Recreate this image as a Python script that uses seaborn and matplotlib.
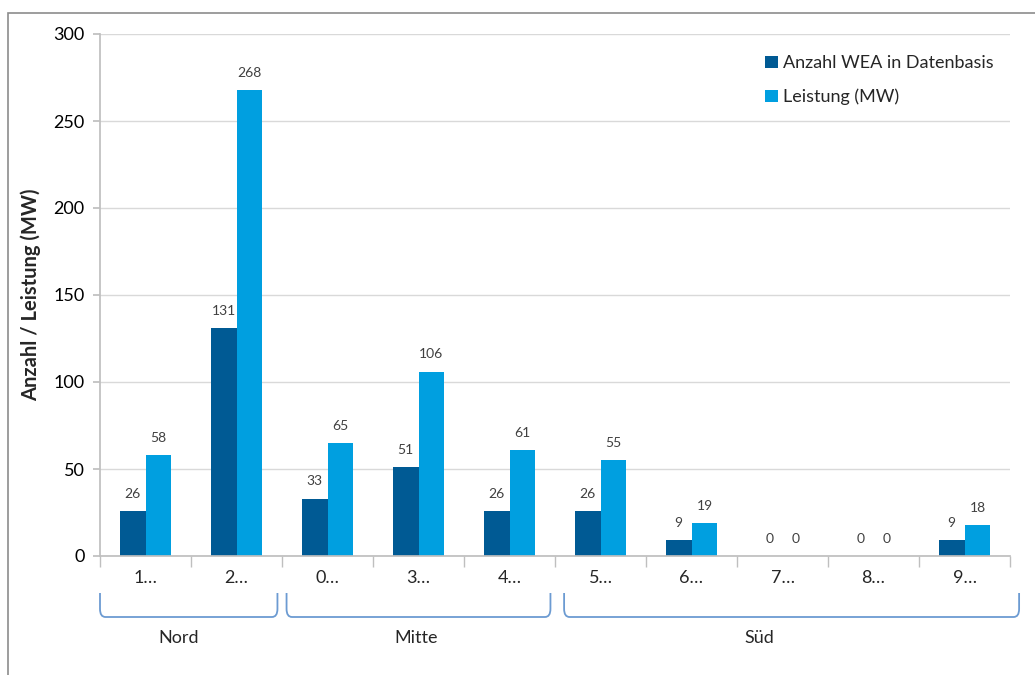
import matplotlib
matplotlib.use("Agg")
import matplotlib.pyplot as plt
import seaborn as sns
import pandas as pd
from matplotlib.path import Path
from matplotlib.patches import PathPatch, Rectangle
import matplotlib.transforms as mtransforms

categories = ["1…", "2…", "0…", "3…", "4…", "5…", "6…", "7…", "8…", "9…"]
anzahl = [26, 131, 33, 51, 26, 26, 9, 0, 0, 9]
leistung = [58, 268, 65, 106, 61, 55, 19, 0, 0, 18]
series_names = ["Anzahl WEA in Datenbasis", "Leistung (MW)"]
groups = ["Nord", "Mitte", "Süd"]

df = pd.DataFrame({
    "cat": categories * 2,
    "val": anzahl + leistung,
    "series": [series_names[0]] * len(categories) + [series_names[1]] * len(categories),
})

sns.set_theme(style="white")
plt.rcParams['font.family'] = ['Lato', 'DejaVu Sans']

fig = plt.figure(figsize=(10.35, 6.75), dpi=100)
ax = fig.add_axes([100 / 1035, 1 - 556 / 675, 910 / 1035, 522 / 675])

palette = {series_names[0]: "#005A94", series_names[1]: "#009FE0"}
sns.barplot(data=df, x="cat", y="val", hue="series", order=categories,
            hue_order=series_names, palette=palette, width=0.57, gap=0,
            saturation=1, ax=ax, legend=True, linewidth=0)

for cont in ax.containers:
    ax.bar_label(cont, fmt="%d", padding=8, fontsize=10, color="#404040")

ax.set_ylim(0, 300)
ax.set_xlim(-0.5, len(categories) - 0.5)
ax.set_yticks([0, 50, 100, 150, 200, 250, 300])
ax.yaxis.grid(True, color="#D9D9D9", linewidth=1)
ax.set_axisbelow(True)
for s in ["top", "right"]:
    ax.spines[s].set_visible(False)
ax.spines["left"].set_color("#BFBFBF")
ax.spines["bottom"].set_color("#BFBFBF")
ax.tick_params(axis="y", which="both", left=True, length=5, color="#BFBFBF",
               labelsize=13, labelcolor="#000000", pad=6)
ax.set_ylabel("Anzahl / Leistung (MW)", fontsize=14.5, fontweight="bold", labelpad=9)
ax.set_xlabel("")

ax.tick_params(axis="x", which="major", length=0, labelsize=13, pad=10)
ax.set_xticks([i - 0.5 for i in range(len(categories) + 1)], minor=True)
ax.tick_params(axis="x", which="minor", length=8, color="#BFBFBF", bottom=True)

leg = ax.legend(loc="upper left", bbox_to_anchor=(0.713, 0.99), frameon=False,
                fontsize=13, handlelength=0.7, handleheight=0.7, handletextpad=0.3,
                labelspacing=0.95)

# group brackets
trans = mtransforms.blended_transform_factory(ax.transData, fig.transFigure)
y_top = 1 - 593 / 675
y_bot = 1 - 617 / 675
r = 0.012
rx = 0.06
bracket_x = [(-0.5, 1.45), (1.55, 4.45), (4.6, 9.6)]
label_x = [0.36, 2.97, 6.75]
for (x0, x1), lx, name in zip(bracket_x, label_x, groups):
    verts = [(x0, y_top), (x0, y_bot + r), (x0, y_bot), (x0 + rx, y_bot),
             (x1 - rx, y_bot), (x1, y_bot), (x1, y_bot + r), (x1, y_top)]
    codes = [Path.MOVETO, Path.LINETO, Path.CURVE3, Path.CURVE3,
             Path.LINETO, Path.CURVE3, Path.CURVE3, Path.LINETO]
    patch = PathPatch(Path(verts, codes), transform=trans, fill=False,
                      edgecolor="#6C9BD2", linewidth=1.3, clip_on=False)
    fig.add_artist(patch)
    fig.text(lx, 1 - 638 / 675, name, transform=trans, fontsize=13,
             ha="center", va="center")

# outer frame
fig.add_artist(Rectangle((8 / 1035, -0.05), 1.2, (1 - 13 / 675) + 0.05,
                         transform=fig.transFigure, fill=False,
                         edgecolor="#8C8C8C", linewidth=1.2))

fig.savefig("out.png", dpi=100)
